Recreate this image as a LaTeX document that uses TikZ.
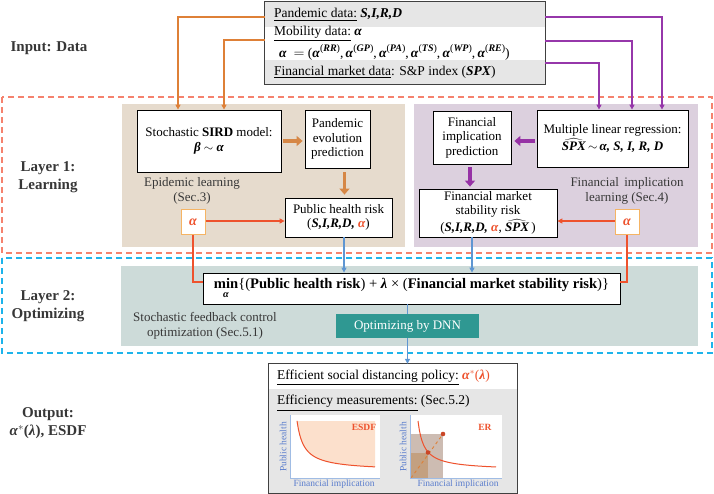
\documentclass[tikz,border=0pt]{standalone}
\usepackage{fontspec}
\usepackage{amsmath}
\setmainfont{Liberation Serif}
\usetikzlibrary{arrows.meta}
\definecolor{orgL}{RGB}{222,128,55}
\definecolor{orgT}{RGB}{214,135,70}
\definecolor{purL}{RGB}{150,55,170}
\definecolor{purT}{RGB}{150,50,165}
\definecolor{dashR}{RGB}{245,130,110}
\definecolor{dashB}{RGB}{30,180,235}
\definecolor{beige}{RGB}{230,219,205}
\definecolor{lilac}{RGB}{220,208,222}
\definecolor{tealbg}{RGB}{205,219,217}
\definecolor{dnnc}{RGB}{47,152,146}
\definecolor{redL}{RGB}{238,82,45}
\definecolor{abord}{RGB}{245,180,100}
\definecolor{blueL}{RGB}{95,150,210}
\definecolor{grayrow}{RGB}{230,230,230}
\definecolor{txtgray}{RGB}{55,55,55}
\definecolor{peach}{RGB}{252,224,204}
\definecolor{axblue}{RGB}{160,188,228}
\definecolor{lblblue}{RGB}{90,125,205}
\definecolor{sqbig}{RGB}{205,188,178}
\definecolor{sqsmall}{RGB}{195,160,128}
\newcommand{\bi}[1]{\textbf{\textit{#1}}}
\newcommand{\asup}[1]{\bi{α}\raisebox{0.42em}{\fontsize{10}{10}\selectfont(\bi{#1})}}
\begin{document}
\begin{tikzpicture}[x=1pt,y=-1pt,
  box/.style={draw=black, line width=0.8pt, fill=white, align=center, inner sep=1pt, font=\fontsize{13}{14.5}\selectfont},
  txt/.style={align=center, inner sep=0pt, font=\fontsize{13}{14.5}\selectfont},
  alphabox/.style={draw=abord, line width=1pt, fill=white, minimum width=24pt, minimum height=25pt, inner sep=0pt, text=redL, font=\fontsize{14}{15}\selectfont},
  oarr/.style={draw=orgL, line width=1.3pt, -{Triangle[length=5pt,width=5pt]}},
  parr/.style={draw=purL, line width=1.3pt, -{Triangle[length=5pt,width=5pt]}},
  othick/.style={draw=orgT, line width=3.5pt, -{Triangle[length=6pt,width=10pt]}},
  pthick/.style={draw=purT, line width=3.5pt, -{Triangle[length=6pt,width=10pt]}},
  rarr/.style={draw=redL, line width=1.2pt, -{Triangle[length=5pt,width=5pt]}},
  rline/.style={draw=redL, line width=1.2pt},
  barr/.style={draw=blueL, line width=1.2pt, -{Triangle[length=5pt,width=5pt]}},
  bline/.style={draw=blueL, line width=1.2pt},
  layerdash/.style={line width=1.8pt, dash pattern=on 6pt off 4pt},
  lbl/.style={font=\bfseries\fontsize{15}{18}\selectfont, text=txtgray, align=center, inner sep=0pt},
  plotlbl/.style={font=\fontsize{9.5}{10}\selectfont, text=lblblue, inner sep=0pt}
]
\useasboundingbox (0,0) rectangle (714,494);

% panels
\fill[beige] (122,104) rectangle (405,247);
\fill[lilac] (414,104) rectangle (698,247);
\fill[tealbg] (121,266) rectangle (698,346);
\draw[layerdash, draw=dashR] (2,97) rectangle (712,253);
\draw[layerdash, draw=dashB] (2,258) rectangle (712,353);

% left labels
\node[lbl] (linp) at (49,48) {Input: Data};
\node[lbl] (ll1) at (48,177) {Layer 1:\\Learning};
\node[lbl] (ll2) at (48,306) {Layer 2:\\Optimizing};
\node[lbl] (lout) at (48,423) {Output:\\\bi{α}$^{*}$(\bi{λ}), ESDF};

% input box
\node[fill=grayrow, minimum width=280pt, minimum height=25pt, inner sep=0pt] (r1) at (405,14.5) {};
\node[fill=white, minimum width=280pt, minimum height=33pt, inner sep=0pt] (r2) at (405,43.5) {};
\node[fill=grayrow, minimum width=280pt, minimum height=24pt, inner sep=0pt] (r3) at (405,72) {};
\draw[line width=0.9pt, draw=black!75] (r1.north west) rectangle (r3.south east);
\node[txt, anchor=west, font=\fontsize{13.5}{15}\selectfont] (t1) at (274,14.5) {\underline{Pandemic data:} \bi{S,I,R,D}};
\node[txt, anchor=west, font=\fontsize{13.5}{15}\selectfont] (t2) at (274,34) {\underline{Mobility data:} \bi{α}};
\node[txt, anchor=west, font=\fontsize{13.5}{15}\selectfont] (t2b) at (279,52.5) {\bi{α}\ \ $=$ (\asup{RR},\,\asup{GP},\,\asup{PA},\,\asup{TS},\,\asup{WP},\,\asup{RE})};
\node[txt, anchor=west, font=\fontsize{13.5}{15}\selectfont] (t3) at (274,72) {\underline{Financial market data}: S\&P index (\bi{SPX})};

% layer 1 left
\node[box, minimum width=144pt, minimum height=62pt] (sird) at (209,141) {Stochastic \textbf{SIRD} model:\\\bi{β} $\sim$ \bi{α}};
\node[box, minimum width=65pt, minimum height=58pt] (pep) at (337.5,139) {Pandemic\\evolution\\prediction};
\node[box, minimum width=107pt, minimum height=39pt] (phr) at (338.5,217.5) {Public health risk\\(\bi{S,I,R,D,} \textcolor{redL}{\bi{α}})};
\node[txt, text=txtgray] (epl) at (192,191) {Epidemic learning\\(Sec.3)};
\node[alphabox] (alphaL) at (193,222.5) {\bi{α}};

% layer 1 right
\node[box, minimum width=78pt, minimum height=53pt] (fip) at (472,137.5) {Financial\\implication\\prediction};
\node[box, minimum width=151pt, minimum height=57pt] (mlr) at (612.5,138.5) {Multiple linear regression:\\[1pt]$\widehat{\bi{SPX}}$\,$\sim$\,\bi{α, S, I, R, D}};
\node[box, minimum width=138pt, minimum height=48pt] (fmsr) at (488,213) {Financial market\\stability risk\\[1pt](\bi{S,I,R,D,} \textcolor{redL}{\bi{α}}, $\widehat{\bi{SPX}}$\,)};
\node[txt, text=txtgray] (fil) at (627,191) {Financial\, implication\\learning (Sec.4)};
\node[alphabox] (alphaR) at (627,222) {\bi{α}};

% layer 2
\node[box, minimum width=417pt, minimum height=31pt, inner sep=2pt, font=\fontsize{14.6}{16}\selectfont] (minb) at (411.5,288.5) {$\mathop{\textbf{min}}\limits_{\bi{α}}$\{(\textbf{Public health risk}) + \bi{λ} × (\textbf{Financial market stability risk})\}};
\node[txt, text=txtgray] (sfc) at (205,326) {Stochastic feedback control\\optimization (Sec.5.1)};
\node[fill=dnnc, text=white, minimum width=143pt, minimum height=24pt, inner sep=0pt, font=\fontsize{13}{14.5}\selectfont] (dnn) at (407.5,326) {Optimizing by DNN};

% output box
\node[fill=grayrow, minimum width=248pt, minimum height=129pt, inner sep=0pt] (outb) at (393,428.5) {};
\node[fill=white, minimum width=248pt, minimum height=25pt, inner sep=0pt] (otop) at (393,376.5) {};
\draw[line width=0.9pt, draw=black!75] (outb.north west) rectangle (outb.south east);
\node[txt, anchor=west, font=\fontsize{13.5}{15}\selectfont] (o1) at (277,378) {\underline{Efficient social distancing policy:} \textcolor{redL}{\bi{α}$^{*}$(\bi{λ})}};
\node[txt, anchor=west, font=\fontsize{13.5}{15}\selectfont] (o2) at (277,403) {\underline{Efficiency measurements:} (Sec.5.2)};

% left plot (ESDF)
\fill[white] (290,415) rectangle (380,478);
\fill[peach] (297,421) -- plot[domain=297:375, samples=60] (\x,{471-351/(\x-290)}) -- (375,421) -- cycle;
\draw[redL, line width=1pt] plot[domain=297:375, samples=60] (\x,{471-351/(\x-290)});
\draw[axblue, line width=0.8pt] (290,415) -- (290,478) -- (380,478);
\node[font=\bfseries\fontsize{9.5}{10}\selectfont, text=redL, inner sep=0pt] (esdf) at (364,427) {ESDF};
\node[plotlbl, rotate=90] (ph1) at (283,447) {Public health};
\node[plotlbl] (fi1) at (334,484) {Financial implication};

% right plot (ER)
\fill[white] (410,415) rectangle (502,478);
\fill[sqbig] (411,434) rectangle (443,478);
\fill[sqsmall] (411,453) rectangle (428,478);
\draw[redL, line width=1pt] plot[domain=418:496, samples=60] (\x,{470.5-297/(\x-412)});
\draw[orgL, line width=0.9pt, dashed] (411,478) -- (443,434);
\fill[redL!85!black] (428,452.5) circle (2.3pt);
\fill[redL!85!black] (443,434) circle (2.3pt);
\draw[axblue, line width=0.8pt] (410,415) -- (410,478) -- (502,478);
\node[font=\bfseries\fontsize{9.5}{10}\selectfont, text=redL, inner sep=0pt] (er) at (485,427) {ER};
\node[plotlbl, rotate=90] (ph2) at (403,447) {Public health};
\node[plotlbl] (fi2) at (458,484) {Financial implication};

% connectors: input
\draw[oarr] ([yshift=-2.5pt]r1.west) -| ([xshift=-31pt]sird.north);
\draw[oarr] ([yshift=3.5pt]r2.west) -| ([xshift=15pt]sird.north);
\draw[parr] ([yshift=-2.5pt]r1.east) -| ([xshift=49.5pt]mlr.north);
\draw[parr] ([yshift=2.5pt]r2.east) -| ([xshift=19.5pt]mlr.north);
\draw[parr] ([yshift=9pt]r3.east) -| ([xshift=-13.5pt]mlr.north);

% layer 1 internal
\draw[othick, shorten <=2pt, shorten >=2pt] (sird.east) -- (sird.east -| pep.west);
\draw[othick, shorten <=4pt, shorten >=3pt] ([xshift=7pt]pep.south) -- ([xshift=7pt]pep.south |- phr.north);
\draw[pthick, shorten <=2pt, shorten >=3pt] ([yshift=-2.5pt]mlr.west) -- ([yshift=-2.5pt]mlr.west -| fip.east);
\draw[pthick, shorten <=3pt, shorten >=2pt] ([xshift=-2pt]fip.south) -- ([xshift=-2pt]fip.south |- fmsr.north);
\draw[rarr] ([yshift=1.5pt]alphaL.east) -- ([yshift=1.5pt]alphaL.east -| phr.west);
\draw[rarr] ([yshift=1pt]alphaR.west) -- ([yshift=1pt]alphaR.west -| fmsr.east);

% to layer 2
\draw[rline] (alphaL.south) |- ([yshift=6.5pt]minb.west);
\draw[rline] (alphaR.south) |- ([yshift=6.5pt]minb.east);
\draw[barr] ([xshift=5.5pt]phr.south) -- ([xshift=5.5pt]phr.south |- minb.north);
\draw[barr] ([xshift=-16pt]fmsr.south) -- ([xshift=-16pt]fmsr.south |- minb.north);
\draw[bline] (dnn.north |- minb.south) -- (dnn.north);
\draw[barr] (dnn.south) -- (dnn.south |- outb.north);
\end{tikzpicture}
\end{document}
